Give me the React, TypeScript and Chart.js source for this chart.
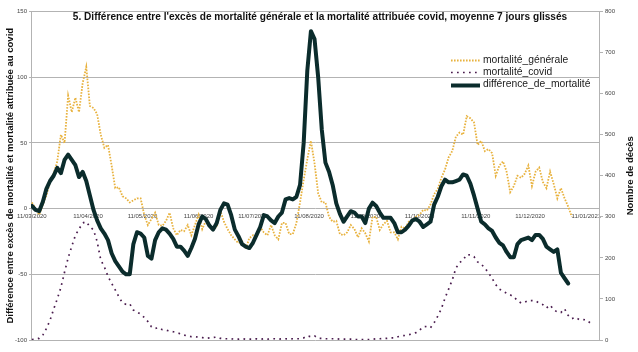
import React, { useEffect, useRef } from 'react';
import { Chart, registerables } from 'chart.js';

Chart.register(...registerables);

// ---------- data ----------
const START_DATE = '2020-03-11';
const STEP_DAYS = 2; // one value every 2 days, starting at START_DATE
const X_MAX_DAY = 313;

const TICK_DATES = [
  '2020-03-11', '2020-04-11', '2020-05-11', '2020-06-11', '2020-07-11', '2020-08-11',
  '2020-09-11', '2020-10-11', '2020-11-11', '2020-12-11', '2021-01-11',
];
const TICK_LABELS = [
  '11/03/2020', '11/04/2020', '11/05/2020', '11/06/2020', '11/07/2020', '11/08/2020',
  '11/09/2020', '11/10/2020', '11/11/2020', '11/12/2020', '11/01/2021',
];

const SERIES_NAMES = ['mortalité_générale', 'mortalité_covid', 'différence_de_mortalité'];

// right axis (Nombre de décès)
const MORTALITE_GENERALE = [
  335, 320, 305, 330, 352, 385, 405, 435, 500, 480,
  595, 555, 590, 555, 625, 665, 570, 565, 550, 500,
  468, 475, 425, 370, 372, 350, 345, 335, 340, 345,
  345, 305, 280, 295, 310, 280, 278, 290, 310, 272,
  255, 268, 265, 280, 255, 280, 305, 270, 290, 276,
  268, 276, 315, 288, 270, 255, 245, 236, 240, 222,
  248, 255, 250, 275, 262, 255, 280, 255, 245, 285,
  285, 258, 258, 285, 335, 390, 440, 485, 430, 357,
  335, 335, 300, 288, 290, 258, 255, 262, 280, 270,
  250, 272, 260, 240, 300, 300, 268, 282, 290, 262,
  262, 245, 276, 272, 288, 292, 300, 305, 317, 315,
  330, 355, 368, 395, 415, 445, 460, 495, 505, 500,
  545, 540, 530, 475, 485, 460, 465, 455, 400, 425,
  435, 410, 360, 375, 400, 395, 405, 425, 375, 410,
  420, 385, 370, 410, 380, 345, 370, 345, 325, 300,
];

// right axis (Nombre de décès)
const MORTALITE_COVID = [
  1, 2, 4, 12, 28, 48, 75, 100, 128, 165,
  200, 228, 255, 270, 285, 288, 276, 268, 240, 195,
  178, 155, 138, 122, 105, 90, 87, 88, 73, 68,
  63, 55, 45, 32, 28, 30, 25, 24, 22, 20,
  18, 15, 12, 10, 8, 8, 7, 6, 4, 5,
  6, 7, 4, 3, 3, 3, 2, 2, 3, 2,
  2, 2, 3, 2, 3, 2, 3, 3, 2, 3,
  3, 2, 3, 3, 3, 5, 10, 8, 10, 4,
  4, 3, 3, 3, 3, 2, 2, 2, 2, 1,
  1, 1, 1, 1, 2, 3, 3, 4, 4, 5,
  5, 8, 10, 11, 13, 15, 18, 24, 32, 33,
  30, 42, 58, 76, 102, 124, 146, 175, 188, 195,
  208, 207, 203, 190, 185, 175, 164, 150, 135, 124,
  119, 114, 110, 105, 96, 90, 92, 96, 96, 95,
  90, 86, 78, 85, 74, 68, 67, 76, 60, 52,
  55, 50, 50, 49, 42,
];

// left axis
const DIFFERENCE = [
  2, -1, -2, 5, 15, 21, 25, 31, 27, 37,
  41, 37, 33, 24, 28, 21, 10, -1, -9, -15,
  -19, -24, -34, -40, -44, -48, -50, -50, -27, -18,
  -19, -22, -36, -38, -24, -18, -15, -16, -19, -23,
  -29, -29, -32, -36, -30, -23, -12, -6, -8, -13,
  -16, -11, -1, 4, 3, -5, -16, -21, -27, -29,
  -30, -26, -20, -14, -5, -6, -9, -11, -6, -3,
  7, 8, 7, 9, 18, 50, 105, 135, 129, 100,
  60, 35, 28, 18, 4, -4, -10, -6, -2, -3,
  -6, -6, -11, 0, 4.5, 2, -3, -7, -7, -7,
  -11, -18, -18, -16, -13, -9, -8, -10, -14, -12,
  -10, 3, 9, 17, 22, 20, 20, 21, 22, 26,
  25, 19, 10, 0, -10, -12, -15, -17, -22, -26,
  -28, -33, -37, -37, -27, -24, -23, -22, -24, -20,
  -20, -23, -29, -31, -33, -31, -49, -53, -57,
];

const TITLE = "5. Différence entre l'excès de mortalité générale et la mortalité attribuée covid, moyenne 7 jours glissés";
const Y_LEFT_TITLE = 'Différence entre excès de mortalité et mortalité attribuée au covid';
const Y_RIGHT_TITLE = 'Nombre de décès';

// ---------- helpers ----------
const dayOffset = (iso: string) =>
  Math.round((Date.parse(iso) - Date.parse(START_DATE)) / 86400000);
const TICK_DAYS = TICK_DATES.map(dayOffset);
const toPoints = (arr: number[]) => arr.map((v, i) => ({ x: i * STEP_DAYS, y: v }));

const FONT = '"Liberation Sans", Arial, sans-serif';
const GRID = '#b3b3b3';

const COLORS = {
  generale: '#e8b23e',
  covid: '#4a1c4e',
  diff: '#0b2c2c',
};

const overlayPlugin = {
  id: 'overlayText',
  afterDraw(chart: any) {
    const ctx = chart.ctx as CanvasRenderingContext2D;
    const { top, bottom } = chart.chartArea;
    const midY = (top + bottom) / 2;
    ctx.save();
    ctx.fillStyle = '#111';
    ctx.textAlign = 'center';
    ctx.textBaseline = 'middle';
    ctx.font = `bold 10.1px ${FONT}`;
    ctx.fillText(TITLE, 320, 17.5);

    ctx.font = `bold 9.5px ${FONT}`;
    ctx.save();
    ctx.translate(10, midY);
    ctx.rotate(-Math.PI / 2);
    ctx.fillText(Y_LEFT_TITLE, 0, 0);
    ctx.restore();

    ctx.save();
    ctx.translate(630, midY);
    ctx.rotate(-Math.PI / 2);
    ctx.fillText(Y_RIGHT_TITLE, 0, 0);
    ctx.restore();

    // legend
    const order = [1, 2, 0]; // dataset indexes: générale, covid, différence
    const rowsY = [60, 72, 84.5];
    ctx.font = `10.3px ${FONT}`;
    ctx.textAlign = 'left';
    order.forEach((dsIndex, row) => {
      const ds = chart.data.datasets[dsIndex];
      const y = rowsY[row];
      ctx.save();
      ctx.strokeStyle = ds.borderColor;
      ctx.lineWidth = ds.borderWidth;
      ctx.setLineDash(ds.borderDash || []);
      ctx.beginPath();
      ctx.moveTo(451, y + (row === 2 ? 1 : 0.5));
      ctx.lineTo(480, y + (row === 2 ? 1 : 0.5));
      ctx.stroke();
      ctx.restore();
      ctx.fillStyle = '#1a1a1a';
      ctx.fillText(ds.label, 483, y);
    });
    ctx.restore();
  },
};

export default function App() {
  const canvasRef = useRef<HTMLCanvasElement | null>(null);

  useEffect(() => {
    if (!canvasRef.current) return;
    const tickFont = { size: 6, family: FONT };
    const chart = new Chart(canvasRef.current, {
      type: 'line',
      data: {
        datasets: [
          {
            label: SERIES_NAMES[2],
            data: toPoints(DIFFERENCE),
            yAxisID: 'y',
            borderColor: COLORS.diff,
            borderWidth: 4,
            pointRadius: 0,
            borderJoinStyle: 'round',
            borderCapStyle: 'round',
            order: 0,
          },
          {
            label: SERIES_NAMES[0],
            data: toPoints(MORTALITE_GENERALE),
            yAxisID: 'y1',
            borderColor: COLORS.generale,
            borderWidth: 1.8,
            borderDash: [1.6, 1.4],
            pointRadius: 0,
            order: 2,
          },
          {
            label: SERIES_NAMES[1],
            data: toPoints(MORTALITE_COVID),
            yAxisID: 'y1',
            borderColor: COLORS.covid,
            borderWidth: 1.7,
            borderDash: [1.7, 4.3],
            pointRadius: 0,
            order: 1,
          },
        ],
      } as any,
      options: {
        animation: false,
        responsive: false,
        maintainAspectRatio: false,
        layout: { padding: { top: 11.5, bottom: 12, left: 0, right: 0 } },
        plugins: {
          legend: { display: false },
          title: { display: false },
          tooltip: { enabled: false },
        },
        scales: {
          x: {
            type: 'linear',
            position: { y: 0 } as any,
            min: -0.5,
            max: X_MAX_DAY,
            grid: { display: false, drawTicks: false },
            border: { display: false },
            afterBuildTicks: (scale: any) => {
              scale.ticks = TICK_DAYS.map((v) => ({ value: v }));
            },
            ticks: {
              autoSkip: false,
              maxRotation: 0,
              minRotation: 0,
              padding: 4,
              font: tickFont,
              color: '#444',
              callback: (_v: any, i: number) => TICK_LABELS[i],
            },
          },
          y: {
            position: 'left',
            min: -100,
            max: 150,
            grid: { color: GRID, tickLength: 2 },
            border: { color: GRID },
            ticks: { stepSize: 50, font: tickFont, color: '#444', padding: 2 },
            afterFit: (scale: any) => {
              scale.width = 31;
            },
          },
          y1: {
            position: 'right',
            min: 0,
            max: 800,
            grid: { drawOnChartArea: false, color: GRID, tickLength: 4 },
            border: { color: GRID },
            ticks: { stepSize: 100, font: tickFont, color: '#444', padding: 2 },
            afterFit: (scale: any) => {
              scale.width = 39;
            },
          },
        } as any,
      },
      plugins: [overlayPlugin],
    });
    return () => chart.destroy();
  }, []);

  return (
    <div style={{ position: 'absolute', left: 0, top: 0, width: 638, height: 352, background: '#fff' }}>
      <canvas ref={canvasRef} width={638} height={352} style={{ display: 'block' }} />
    </div>
  );
}
